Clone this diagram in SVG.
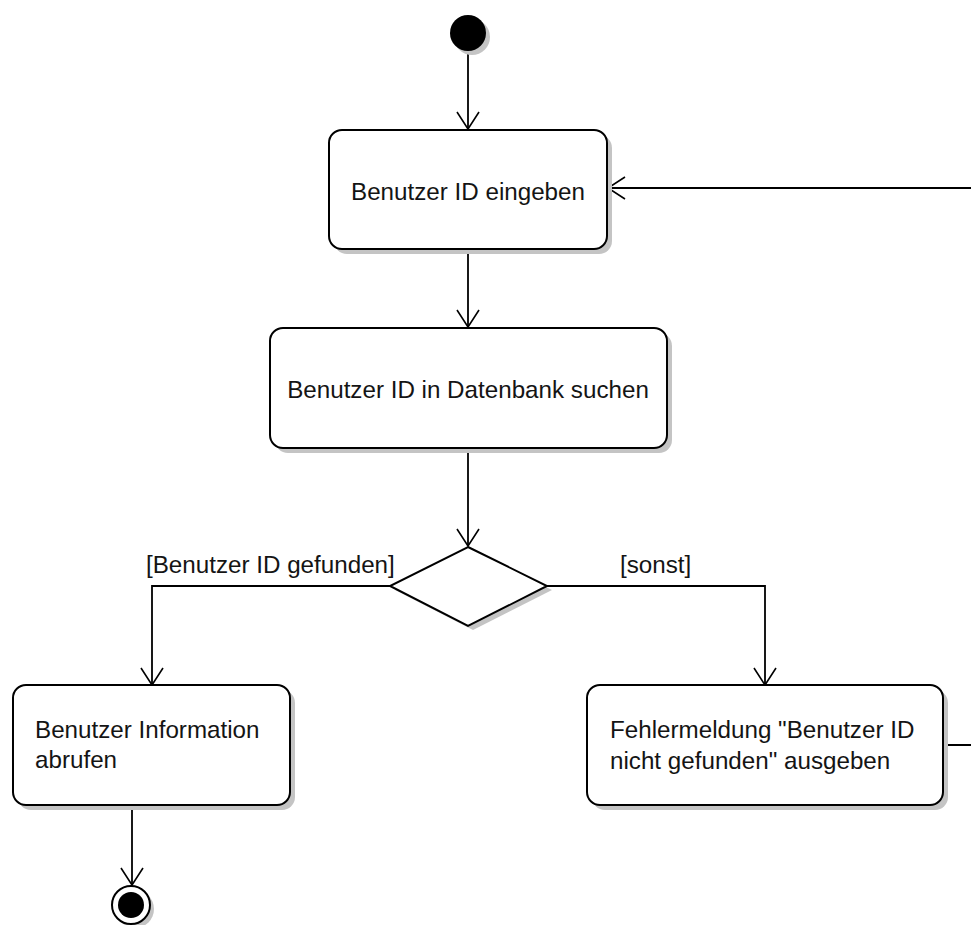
<svg xmlns="http://www.w3.org/2000/svg" width="971" height="925" viewBox="0 0 971 925">
  <defs>
    <marker id="open" markerUnits="userSpaceOnUse" markerWidth="24" markerHeight="28" refX="0" refY="0" viewBox="-20 -14 24 28" orient="auto" overflow="visible">
      <path d="M-17,-11 L0,0 L-17,11" fill="none" stroke="#000" stroke-width="1.6"/>
    </marker>
  </defs>
  <style>
    .box { fill: #fff; stroke: #000; stroke-width: 2; }
    .shadow { fill: #c4c4c4; stroke: none; }
    .edge { fill: none; stroke: #000; stroke-width: 1.8; }
    text { font-family: "Liberation Sans", Arial, sans-serif; font-size: 24.2px; fill: #141414; }
  </style>
  <rect width="971" height="925" fill="#fff"/>

  <!-- connectors -->
  <g id="connectors">
    <path class="edge" d="M468,52 V129" marker-end="url(#open)"/>
    <path class="edge" d="M468,249 V327" marker-end="url(#open)"/>
    <path class="edge" d="M468,448 V546" marker-end="url(#open)"/>
    <path class="edge" d="M390,586 H152 V685" marker-end="url(#open)"/>
    <path class="edge" d="M547,586 H765 V685" marker-end="url(#open)"/>
    <path class="edge" d="M132,805 V885" marker-end="url(#open)"/>
    <path class="edge" d="M943,745 H990 V188 H608" marker-end="url(#open)"/>
    <text x="146" y="573">[Benutzer ID gefunden]</text>
    <text x="620" y="573">[sonst]</text>
  </g>

  <!-- start -->
  <g id="start">
    <circle cx="472" cy="37" r="18" class="shadow"/>
    <circle cx="468" cy="33" r="18" fill="#000"/>
  </g>

  <g id="eingeben">
    <rect x="334" y="135" width="278" height="119" rx="13" class="shadow"/>
    <rect x="329" y="130" width="278" height="119" rx="13" class="box"/>
    <text x="468" y="200" text-anchor="middle">Benutzer ID eingeben</text>
  </g>

  <g id="suchen">
    <rect x="275" y="333" width="397" height="120" rx="13" class="shadow"/>
    <rect x="270" y="328" width="397" height="120" rx="13" class="box"/>
    <text x="468" y="398" text-anchor="middle">Benutzer ID in Datenbank suchen</text>
  </g>

  <g id="decision">
    <polygon points="473,551 552,590 473,630 395,590" class="shadow"/>
    <polygon points="468,547 547,586 468,626 390,586" class="box"/>
  </g>

  <g id="abrufen">
    <rect x="18" y="690" width="277" height="120" rx="13" class="shadow"/>
    <rect x="13" y="685" width="277" height="120" rx="13" class="box"/>
    <text x="35" y="738">Benutzer Information</text>
    <text x="35" y="768">abrufen</text>
  </g>

  <g id="fehler">
    <rect x="592" y="690" width="356" height="120" rx="13" class="shadow"/>
    <rect x="587" y="685" width="356" height="120" rx="13" class="box"/>
    <text x="610" y="738">Fehlermeldung "Benutzer ID</text>
    <text x="610" y="769">nicht gefunden" ausgeben</text>
  </g>

  <!-- end -->
  <g id="end">
    <circle cx="135" cy="909" r="19" class="shadow"/>
    <circle cx="131" cy="905" r="19" fill="#fff" stroke="#000" stroke-width="2"/>
    <circle cx="131" cy="905" r="13" fill="#000"/>
  </g>
</svg>
